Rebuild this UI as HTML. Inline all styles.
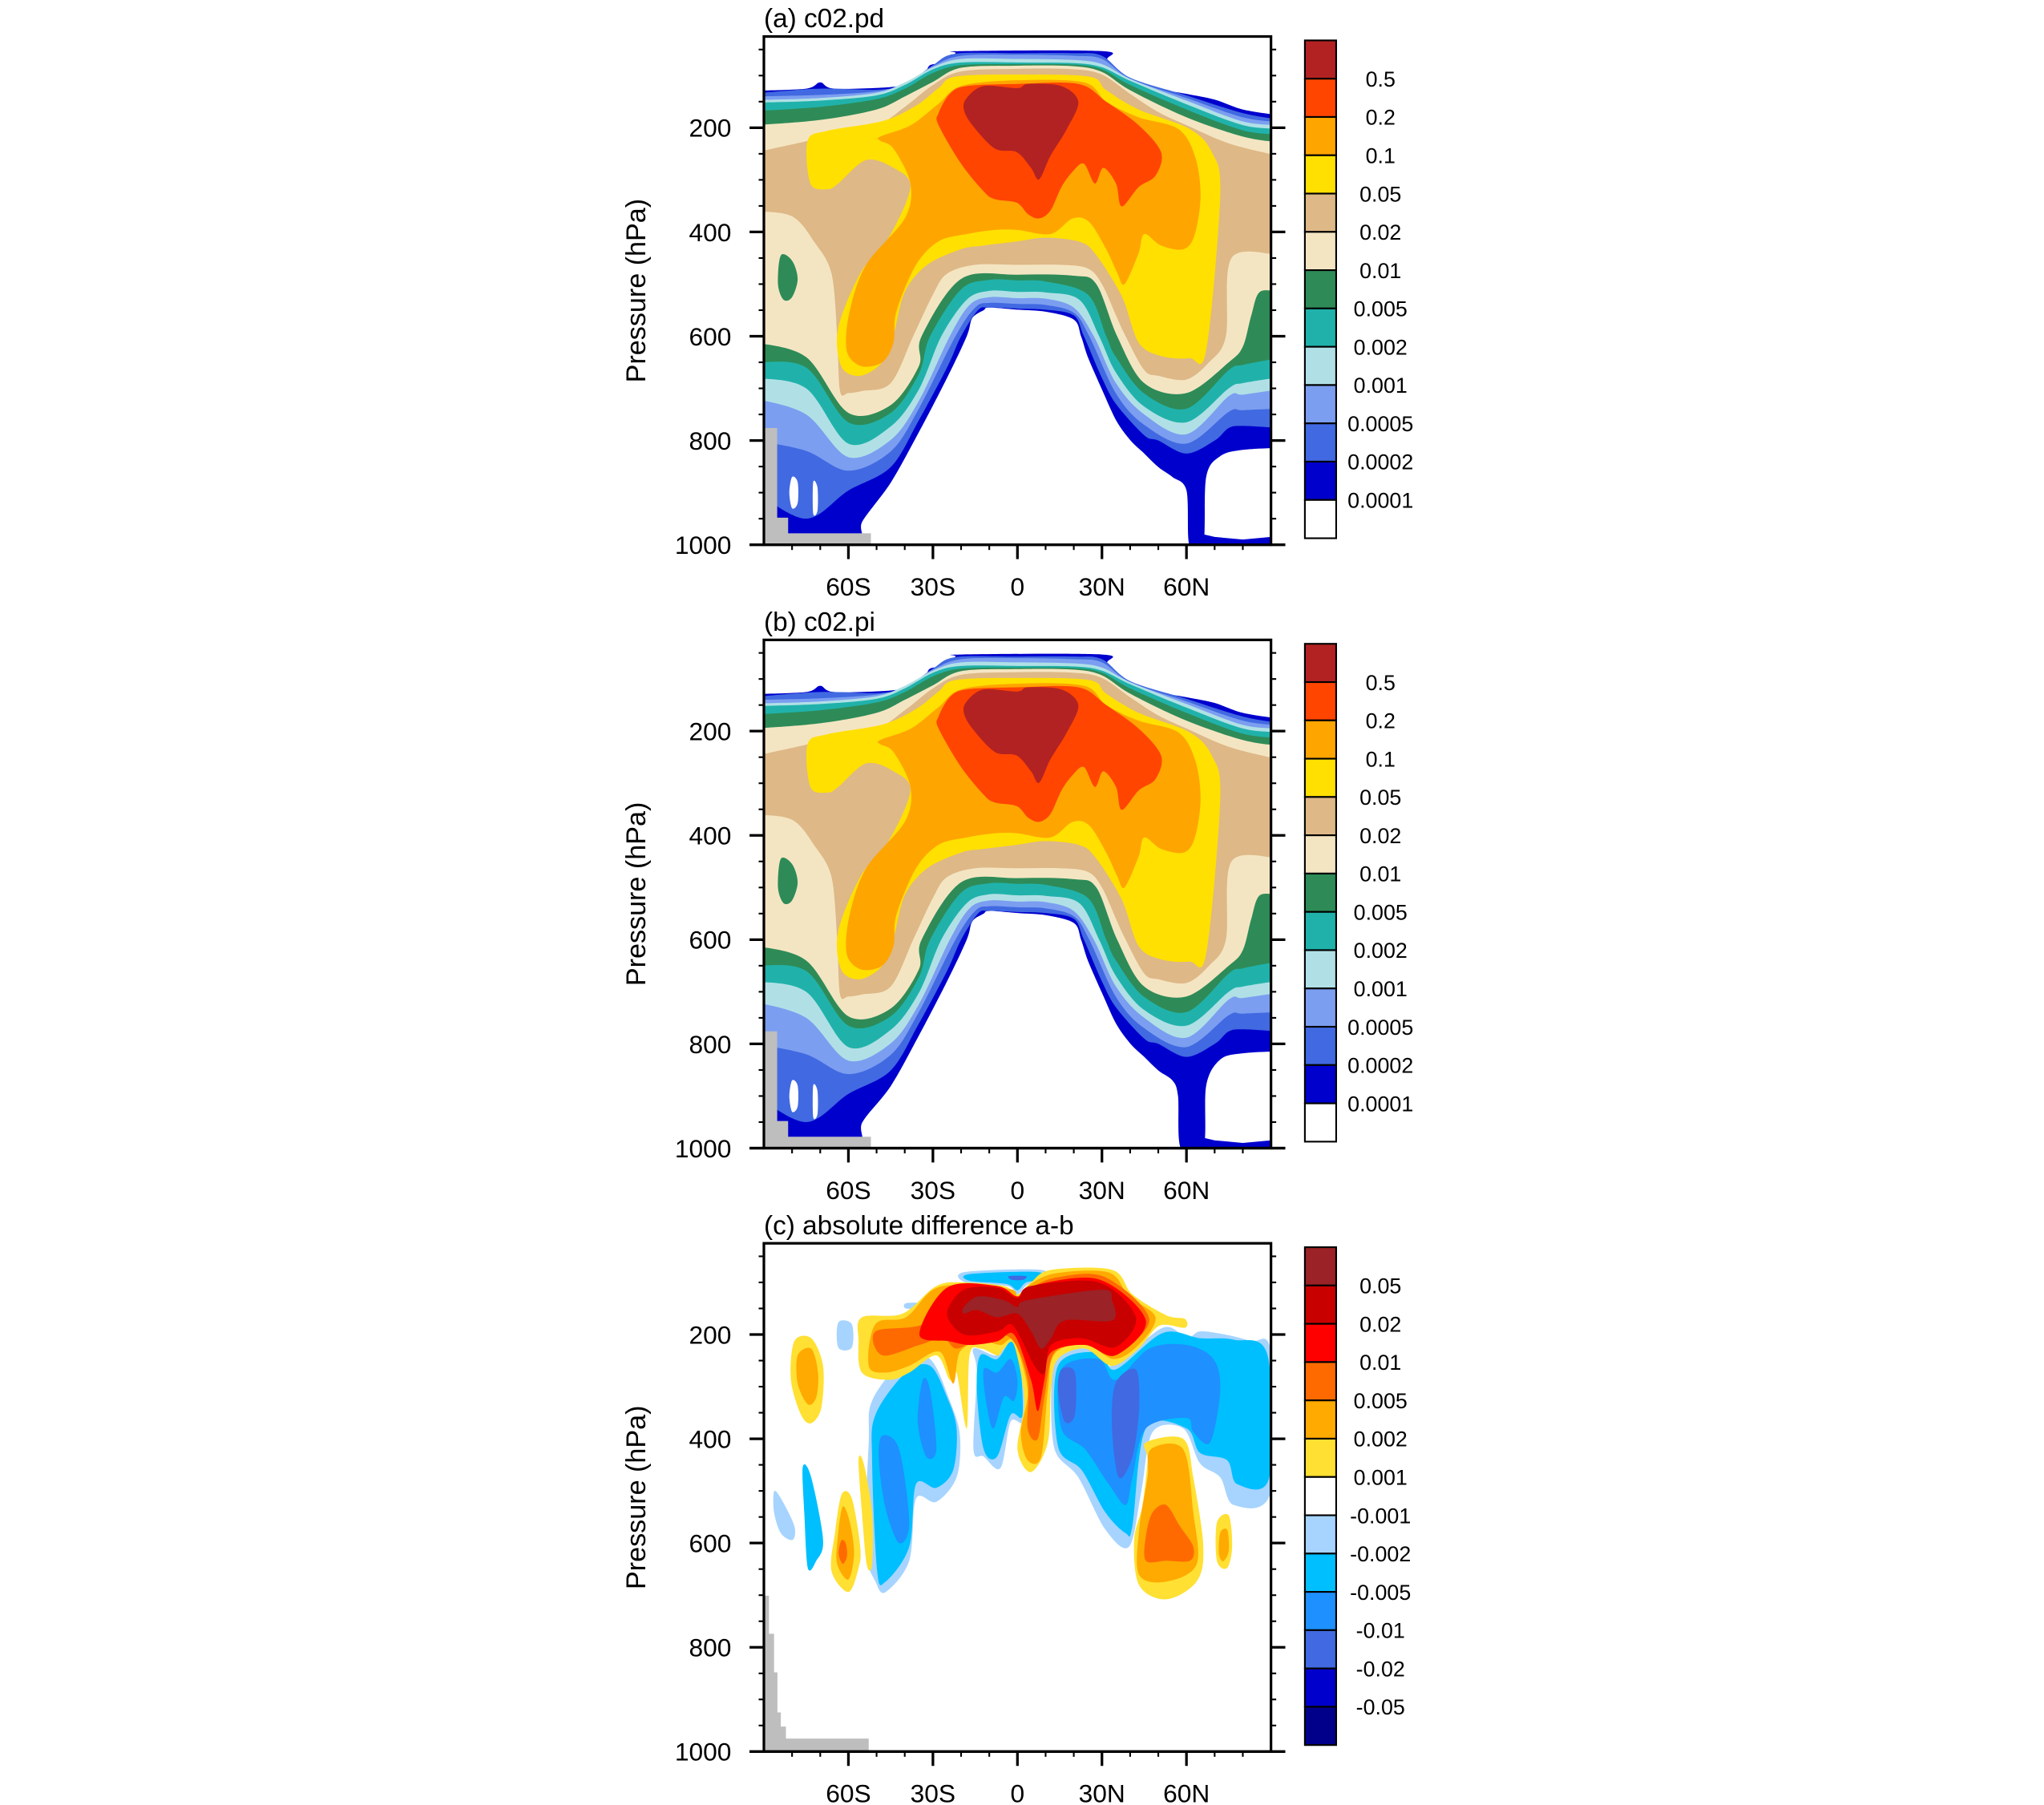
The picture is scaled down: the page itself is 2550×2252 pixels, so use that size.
<!DOCTYPE html>
<html><head><meta charset="utf-8">
<style>
html,body{margin:0;padding:0;background:#fff;}
svg{display:block;font-family:"Liberation Sans",Arial,sans-serif;}
</style></head>
<body>
<svg id="fig" xmlns="http://www.w3.org/2000/svg" width="2550" height="2252" viewBox="0 0 1568 1385" preserveAspectRatio="none">
<rect x="0" y="0" width="1568" height="1385" fill="#fff"/>
</svg>
<script>
// ---------- data (lat, pressure hPa) ----------
const colorsAB = ["#B22222","#FF4500","#FFA500","#FFE000","#DEB887","#F4E5C2","#2E8B57","#20B2AA","#B0E0E6","#7B9EF0","#4169E1","#0000CD","#FFFFFF"];
const labelsAB = ["0.5","0.2","0.1","0.05","0.02","0.01","0.005","0.002","0.001","0.0005","0.0002","0.0001"];
const colorsC = ["#9B2226","#C80000","#FF0000","#FF6A00","#FFAA00","#FFE033","#FFFFFF","#A6D4FF","#00BFFF","#1E90FF","#4169E1","#0000CD","#00008B"];
const labelsC = ["0.05","0.02","0.01","0.005","0.002","0.001","-0.001","-0.002","-0.005","-0.01","-0.02","-0.05"];
const latTicks = [-60,-30,0,30,60];
const latTickLabels = ["60S","30S","0","30N","60N"];
const presTicks = [200,400,600,800,1000];
const titles = ["(a) c02.pd","(b) c02.pi","(c) absolute difference a-b"];

// annulus tops (left to right)
const top1 = [[-90,129],[-75,125],[-70,113],[-65,125],[-45,122],[-38,113],[-33,100],[-31,80],[-25,75],[-22,57],[-20,53],[30,53],[32,70],[38,100],[45,120],[60,135],[70,146],[80,165],[90,176]];
const top2 = [[-90,134],[-70,125],[-50,127],[-40,117],[-30,80],[-22,58],[0,57],[20,57],[30,62],[40,104],[60,138],[80,172],[90,184]];
const top3 = [[-90,140],[-70,137],[-50,130],[-40,115],[-30,82],[-20,62],[0,60],[20,62],[30,68],[40,106],[60,143],[80,180],[90,189]];
const top4 = [[-90,147],[-70,143],[-50,133],[-40,113],[-30,84],[-20,68],[0,68],[20,70],[30,78],[40,106],[60,148],[80,188],[90,195]];
const top5 = [[-90,152],[-70,148],[-50,138],[-40,118],[-30,88],[-20,75],[0,75],[20,76],[30,84],[40,110],[60,155],[80,195],[90,202]];
const top6 = [[-90,168],[-70,160],[-50,145],[-40,125],[-30,95],[-20,80],[0,78],[20,79],[30,88],[40,118],[60,165],[80,205],[90,213]];
const top7 = [[-90,195],[-70,185],[-50,165],[-40,140],[-30,112],[-20,85],[0,81],[20,82],[30,93],[40,128],[60,180],[80,217],[90,228]];
const top8 = [[-90,247],[-70,220],[-50,195],[-40,160],[-30,118],[-20,92],[0,87],[20,88],[30,98],[40,135],[50,170],[60,195],[75,230],[90,254]];
// annulus bottoms (right to left)
const bot1 = [[90,814],[80,818],[72,830],[67,870],[66,1000],[61,1000],[60,896],[55,870],[50,851],[45,825],[40,799],[35,761],[30,702],[25,640],[22.6,600],[20,568],[10,553],[0,549],[-10,545],[-12,550],[-16,565],[-18,600],[-25,680],[-35,784],[-45,881],[-55,955],[-58,1000],[-90,1000]];
const bot1b = [[90,814],[80,818],[72,830],[67,880],[66,1000],[58,1000],[57,900],[55,870],[50,851],[45,825],[40,799],[35,761],[30,702],[25,640],[22.6,600],[20,568],[10,553],[0,549],[-10,545],[-12,550],[-16,565],[-18,600],[-25,680],[-35,784],[-45,881],[-55,950],[-58,1000],[-90,1000]];
const bot2 = [[90,776],[80,772],[75,776],[70,800],[60,825],[50,800],[45,790],[35,730],[30,680],[23.6,600],[20,560],[10,549],[0,547],[-10,545],[-14,550],[-20,600],[-25,660],[-35,761],[-45,851],[-60,896],[-75,950],[-90,900]];
const bot3 = [[90,739],[80,742],[75,745],[60,806],[45,770],[35,710],[25.5,600],[20,555],[10,540],[0,538],[-10,536],[-15,545],[-22,600],[-35,739],[-45,821],[-60,858],[-75,820],[-90,800]];
const bot4 = [[90,702],[80,712],[75,715],[60,788],[45,750],[35,690],[27.1,600],[20,545],[10,528],[0,527],[-10,525],[-17,540],[-24,600],[-35,724],[-45,799],[-60,832],[-75,750],[-90,720]];
const bot5 = [[90,679],[80,690],[75,700],[60,765],[45,735],[35,670],[29,600],[22,530],[10,516],[0,515],[-10,513],[-18,530],[-27,600],[-35,702],[-45,773],[-60,806],[-75,700],[-90,680]];
const bot6 = [[90,642],[80,655],[75,665],[60,739],[45,710],[35,640],[31.5,600],[25,520],[10,495],[0,493],[-10,492],[-20,510],[-31,600],[-35,672],[-45,747],[-60,765],[-75,660],[-90,650]];
const bot7 = [[90,515],[86,515],[83,560],[80,620],[75,650],[60,709],[45,690],[35.4,600],[28,500],[20,484],[0,482],[-20,490],[-34,600],[-35,657],[-45,732],[-60,747],[-75,640],[-90,612]];
const bot8 = [[90,444],[76,450],[74,600],[68,650],[60,683],[50,676],[45,665],[38.4,600],[35,560],[30,500],[25,470],[15,463],[0,463],[-15,463],[-25,480],[-30,520],[-37,600],[-45,690],[-55,705],[-60,709],[-63,705],[-64,600],[-66,480],[-72,420],[-80,370],[-90,360]];
// closed blobs
const blobGold = [[-74.5,225],[-67.5,206],[-47.7,187],[-35.8,157],[-28,124],[-22,102],[0,98],[25.5,102],[31.5,128],[43,165],[61,202],[69,247],[72,329],[67,627],[61,642],[51,638],[43,612],[37,523],[27.5,441],[21.6,418],[9.7,411],[0,418],[-12,426],[-20,433],[-32,463],[-40,515],[-44,597],[-48,650],[-56,676],[-62.6,657],[-63.6,583],[-55.6,478],[-45.7,411],[-38,314],[-44,277],[-53.7,262],[-63.6,307],[-67.5,318],[-73.5,307]];
const blobOrange = [[-48.7,217],[-37.8,195],[-28,154],[-20,120],[0,109],[23.6,113],[31.5,150],[43,180],[57,202],[63,254],[65,329],[63,404],[59,433],[51,426],[45,404],[43,441],[38,500],[35.4,478],[31.5,433],[25.5,381],[19.6,374],[11.7,404],[0,396],[-8,396],[-18,404],[-28,418],[-36,463],[-43,553],[-44,612],[-48,650],[-55.6,657],[-60.6,627],[-59.6,553],[-53.7,463],[-40,374],[-38,307],[-44,240],[-48.7,225]];
const blobRed = [[-28,172],[-24,135],[-18,120],[0,116],[21.6,116],[31.5,150],[43,195],[51,247],[49,292],[43,314],[37,351],[35,307],[30.5,277],[27.5,307],[23.6,269],[19.6,284],[15.6,314],[11.7,359],[7.7,374],[3.8,366],[-0.2,344],[-8,337],[-12,322],[-20,269],[-28,195]];
const blobDark = [[-18,143],[-12,120],[0,124],[3.8,116],[15.6,120],[21.6,150],[17.6,202],[11.7,254],[7.7,299],[4.8,277],[-0.2,247],[-8,240],[-16,195],[-19,165]];
const blobGreen = [[-84,445],[-80,455],[-78,490],[-80,525],[-83,530],[-85,500]];
const holeW1 = [[-80,870],[-78,880],[-78,920],[-80,930],[-81,900]];
const holeW2 = [[-72.5,880],[-71,890],[-71,935],[-72.5,940]];
const stripNE = [[62,1000],[62,975],[70,985],[80,990],[90,985],[90,1000]];
const terrainAB = [[-90,776],[-85.3,776],[-85.3,948],[-81.4,948],[-81.4,978],[-52,978],[-52,1000],[-90,1000]];
const terrainC = [[-90,701],[-88.2,701],[-88.2,774],[-86.4,774],[-86.4,848],[-85.2,848],[-85.2,925],[-84,925],[-84,952],[-82.2,952],[-82.2,975],[-52.8,975],[-52.8,1000],[-90,1000]];

// panel c: negatives
const negLightL = [[-51.6,327],[-40.8,253],[-31,247],[-24,327],[-20.4,394],[-21.6,474],[-28.8,521],[-36,515],[-38.4,634],[-46.8,694],[-50.4,674],[-54,607],[-52.8,407]];
const negLightM = [[-15.6,227],[-7.2,240],[-2.4,207],[1.2,227],[2.4,362],[-2.4,367],[-6,456],[-12,434],[-15.6,420],[-14.4,273]];
const negLightR = [[13.2,247],[28.8,220],[33.6,260],[51.6,187],[60,207],[64.8,194],[73.6,200],[82.8,213],[90,234],[90,501],[76.8,527],[72,474],[64.8,447],[58.8,380],[48,387],[44,500],[39.6,607],[31.2,574],[21.6,474],[13.2,420],[12,300]];
const negLightTop = [[-18.6,80],[8.4,76],[9.6,97],[3.6,104],[0,123],[-3.6,107],[-18.4,100]];
const negLightS1 = [[-86.4,501],[-84,514],[-79.2,567],[-79.8,594],[-84,581],[-86.4,541]];
const negLightS2 = [[-63.6,177],[-58.8,180],[-58.8,225],[-63.6,225]];
const negLightS3 = [[-39.6,140],[-33.6,140],[-33.6,150],[-39.6,150]];
const negCyanL = [[-50.4,354],[-39.6,273],[-31,260],[-25,320],[-21.6,380],[-22.8,460],[-28.8,494],[-36,487],[-38.4,607],[-46.8,674],[-49.8,654],[-51.6,441]];
const negCyanM = [[-13.2,240],[-7.2,247],[-2.4,213],[0.6,234],[1.8,354],[-2.4,354],[-7.2,434],[-12,420],[-14.4,307]];
const negCyanR = [[14.4,260],[28.8,234],[34.8,267],[51.6,197],[64.8,207],[76.8,210],[88.8,240],[89.4,474],[78,487],[74.4,441],[64.8,427],[60,380],[45.6,380],[40.8,567],[38.4,581],[31.2,541],[22.8,460],[14.4,414]];
const negCyanTop = [[-17,84],[7,80],[8,95],[3,100],[0,115],[-4,103],[-17,97]];
const negCyanS = [[-76.2,454],[-73.2,474],[-69,594],[-71.4,634],[-74.4,648],[-75.6,547]];
const negDodgerL1 = [[-48,394],[-42,420],[-38.4,561],[-42,600],[-46.8,534],[-49.2,441]];
const negDodgerL2 = [[-33.6,287],[-31,307],[-28.8,420],[-32.4,434],[-35.4,367]];
const negDodgerM = [[-12,267],[-7.2,273],[-2.4,247],[0,287],[-1.2,327],[-4.8,320],[-8.4,380],[-10.8,340]];
const negDodgerR = [[15.6,267],[28.8,247],[34.8,287],[46.8,227],[60,220],[69.6,247],[72,307],[68.4,407],[62.4,387],[60,360],[45.6,380],[40.8,474],[38.4,527],[32.4,487],[24,420],[15.6,380]];
const negRoyal1 = [[34.8,294],[42,267],[43.2,340],[40.8,434],[36,474],[33.6,380]];
const negRoyal2 = [[15.6,267],[20.4,273],[20.4,354],[16.8,367],[14.4,307]];
const negRoyalTop = [[-3,88],[3,88],[2,95],[-2,95]];
// panel c: positives
const posYellowTop = [[-55.2,167],[-40.8,160],[-28.8,107],[-19,100],[-4.8,107],[0,123],[4.8,100],[12,76],[33.6,76],[40.8,123],[52.8,163],[59.4,170],[59.4,187],[50.4,183],[43,227],[33.6,260],[24,227],[14.4,247],[12,300],[10.8,407],[4.8,464],[0,420],[2.4,327],[-1.2,220],[-4.8,227],[-7,240],[-13,227],[-17,240],[-18,380],[-21.6,273],[-24,287],[-28.8,240],[-38.4,273],[-45.6,287],[-55.2,273],[-56.4,212]];
const posOrangeTop = [[-50.4,180],[-39.6,167],[-30,114],[-19,105],[-2.4,113],[0,127],[3.6,107],[13.2,83],[32.4,81],[39.6,127],[49,167],[43,220],[34.2,247],[24,217],[13.2,237],[10.8,307],[8.4,434],[3.6,441],[1.2,387],[3.6,307],[-1.2,213],[-6,220],[-13,213],[-20.4,233],[-22.8,294],[-27.6,233],[-38.4,260],[-46.8,273],[-52.8,260]];
const posDOrangeTop = [[-50.4,194],[-33.6,180],[-26.4,120],[-7.2,110],[0,130],[4.8,110],[14.4,90],[31.2,90],[46.8,170],[34.8,237],[24,220],[13.2,234],[9.6,320],[7.2,400],[3.6,380],[3.6,287],[-2.4,207],[-13,207],[-21.6,227],[-26.4,207],[-34.8,220],[-48,240]];
const posRedTop = [[-34.8,200],[-25,110],[-7.2,107],[0,127],[4.8,107],[28.8,94],[45.6,173],[34.8,240],[24,220],[12,234],[9.6,287],[7.2,347],[4.8,287],[-1.2,200],[-7.2,213],[-16.8,220],[-24,213]];
const posCrimsonTop = [[-25,160],[-19,114],[-7.2,110],[0,130],[4.8,107],[28.8,100],[42,167],[34.8,224],[22.8,207],[12,220],[9.6,274],[6,260],[1.2,207],[-2.4,180],[-7.2,194],[-19,200]];
const posDarkTop = [[-19,147],[-14,127],[-4.8,134],[0,147],[3.6,134],[30,114],[33.6,134],[33.6,173],[16.8,173],[12,207],[8.4,227],[4.8,194],[0,160],[-7.2,167],[-14.4,153],[-19,160]];
const posYellowNE = [[45.6,407],[58.8,400],[62.4,474],[66,607],[63.6,674],[52.8,708],[43.2,681],[41.4,594],[44.4,527],[46.2,441]];
const posOrangeNE = [[47.4,420],[58.8,420],[62.4,541],[63.6,641],[52.8,674],[43.2,661],[43.2,574],[46.2,474]];
const posDOrangeNE = [[48,541],[52.8,527],[57.6,567],[62.4,607],[61.2,634],[52.8,634],[45.6,634],[45.6,587]];
const posYellowSW = [[-79.2,213],[-73.2,207],[-69,260],[-69.6,340],[-73.2,370],[-76.8,354],[-80.4,287]];
const posOrangeSW = [[-78,240],[-73.2,227],[-70.8,273],[-71.4,320],[-74.4,334],[-78,294]];
const posYellowS = [[-62.4,507],[-58.8,514],[-55.8,607],[-56.4,648],[-60,694],[-66,654],[-64.8,581]];
const posOrangeS = [[-62,530],[-59.5,560],[-58,620],[-60,670],[-64,640],[-63.8,590]];
const posDOrangeS = [[-62.5,595],[-61,600],[-60.5,625],[-62,640],[-63.5,620]];
const posYellowS2 = [[-56.4,441],[-54.6,447],[-51.6,541],[-51.6,641],[-53.5,641],[-55.2,541]];
const posYellowE = [[70.8,561],[75,547],[76.2,607],[74.4,648],[70.8,634]];
const posOrangeE = [[72,580],[74.5,575],[75,615],[73,635],[71.5,620]];

// ---------- drawing ----------
const svg = document.getElementById('fig');
const NS = 'http://www.w3.org/2000/svg';
const PX0 = 586, PX1 = 975, PY0 = 28, PY1 = 418;
function xS(lat){ return PX0 + (lat + 90) / 180 * (PX1 - PX0); }
function yS(p, off){ return off + PY0 + (p - 25) / 975 * (PY1 - PY0); }
function mk(tag, attrs, parent){
  const e = document.createElementNS(NS, tag);
  for (const k in attrs) e.setAttribute(k, attrs[k]);
  (parent || svg).appendChild(e);
  return e;
}
function smoothPath(P){
  const n = P.length;
  let d = 'M' + P[0][0].toFixed(1) + ',' + P[0][1].toFixed(1);
  for (let i = 0; i < n; i++){
    const p0 = P[(i - 1 + n) % n], p1 = P[i], p2 = P[(i + 1) % n], p3 = P[(i + 2) % n];
    const t = 0.16;
    const c1x = p1[0] + (p2[0] - p0[0]) * t, c1y = p1[1] + (p2[1] - p0[1]) * t;
    const c2x = p2[0] - (p3[0] - p1[0]) * t, c2y = p2[1] - (p3[1] - p1[1]) * t;
    d += 'C' + c1x.toFixed(1) + ',' + c1y.toFixed(1) + ' ' + c2x.toFixed(1) + ',' + c2y.toFixed(1) + ' ' + p2[0].toFixed(1) + ',' + p2[1].toFixed(1);
  }
  return d + 'Z';
}
function poly(g, pts, off, color, name, sharp){
  const P = pts.map(d => [xS(d[0]), yS(d[1], off)]);
  let e;
  if (sharp) e = mk('polygon', {points: P.map(q => q[0].toFixed(1) + ',' + q[1].toFixed(1)).join(' '), fill: color}, g);
  else e = mk('path', {d: smoothPath(P), fill: color}, g);
  
  
  return e;
}
// pad edge points outside the frame so smoothing does not overshoot at the edges
function padEdges(arr){
  const out = [];
  arr.forEach(d => {
    if (Math.abs(d[0]) >= 90){
      const s = d[0] > 0 ? 1 : -1;
      out.push([s * 93, d[1]], [s * 96, d[1]], [s * 93, d[1]]);
    } else out.push(d);
  });
  return out;
}
function band(g, top, bot, off, color, name){
  const pts = padEdges(top).concat(padEdges(bot));
  return poly(g, pts, off, color, name);
}

function panelAB(off, idx, b1){
  const clipId = 'clip' + idx;
  const cp = mk('clipPath', {id: clipId});
  mk('rect', {x: PX0, y: off + PY0, width: PX1 - PX0, height: PY1 - PY0}, cp);
  const g = mk('g', {'clip-path': 'url(#' + clipId + ')'});
  
  
  band(g, top1, b1, off, colorsAB[11], 'level-0.0001');
  band(g, top2, bot2, off, colorsAB[10], 'level-0.0002');
  band(g, top3, bot3, off, colorsAB[9], 'level-0.0005');
  band(g, top4, bot4, off, colorsAB[8], 'level-0.001');
  band(g, top5, bot5, off, colorsAB[7], 'level-0.002');
  band(g, top6, bot6, off, colorsAB[6], 'level-0.005');
  band(g, top7, bot7, off, colorsAB[5], 'level-0.01');
  band(g, top8, bot8, off, colorsAB[4], 'level-0.02');
  poly(g, blobGreen, off, colorsAB[6], 'level-0.005-blob');
  poly(g, blobGold, off, colorsAB[3], 'level-0.05');
  poly(g, blobOrange, off, colorsAB[2], 'level-0.1');
  poly(g, blobRed, off, colorsAB[1], 'level-0.2');
  poly(g, blobDark, off, colorsAB[0], 'level-0.5');
  poly(g, holeW1, off, '#FFFFFF', 'below-0.0001-patch');
  poly(g, holeW2, off, '#FFFFFF', 'below-0.0001-patch');
  poly(g, stripNE, off, colorsAB[11], 'level-0.0001-surface', true);
  poly(g, terrainAB, off, '#BEBEBE', 'terrain-mask', true);
}

function panelC(off){
  const cp = mk('clipPath', {id: 'clipc'});
  mk('rect', {x: PX0, y: off + PY0, width: PX1 - PX0, height: PY1 - PY0}, cp);
  const g = mk('g', {'clip-path': 'url(#clipc)'});
  
  
  [negLightL, negLightM, negLightR, negLightTop, negLightS1, negLightS2, negLightS3].forEach(a => poly(g, a, off, colorsC[7], 'neg-0.001'));
  [negCyanL, negCyanM, negCyanR, negCyanTop, negCyanS].forEach(a => poly(g, a, off, colorsC[8], 'neg-0.002'));
  [negDodgerL1, negDodgerL2, negDodgerM, negDodgerR].forEach(a => poly(g, a, off, colorsC[9], 'neg-0.005'));
  [negRoyal1, negRoyal2, negRoyalTop].forEach(a => poly(g, a, off, colorsC[10], 'neg-0.01'));
  [posYellowTop, posYellowNE, posYellowSW, posYellowS, posYellowS2, posYellowE].forEach(a => poly(g, a, off, colorsC[5], 'pos-0.001'));
  [posOrangeTop, posOrangeNE, posOrangeSW, posOrangeS, posOrangeE].forEach(a => poly(g, a, off, colorsC[4], 'pos-0.002'));
  [posDOrangeTop, posDOrangeNE, posDOrangeS].forEach(a => poly(g, a, off, colorsC[3], 'pos-0.005'));
  poly(g, posRedTop, off, colorsC[2], 'pos-0.01');
  poly(g, posCrimsonTop, off, colorsC[1], 'pos-0.02');
  poly(g, posDarkTop, off, colorsC[0], 'pos-0.05');
  poly(g, terrainC, off, '#BEBEBE', 'terrain-mask', true);
}

function axes(off, idx){
  const g = mk('g', {});
  
  
  for (let p = 50; p <= 1000; p += 50){
    const y = yS(p, off);
    const major = presTicks.indexOf(p) >= 0;
    const L = major ? 11 : 4;
    mk('line', {x1: PX0 - L, x2: PX0, y1: y, y2: y, stroke: '#000', 'stroke-width': major ? 2 : 1.3}, g);
    mk('line', {x1: PX1, x2: PX1 + L, y1: y, y2: y, stroke: '#000', 'stroke-width': major ? 2 : 1.3}, g);
  }
  for (let lat = -80; lat <= 80; lat += 10){
    const x = xS(lat);
    const major = latTicks.indexOf(lat) >= 0;
    mk('line', {x1: x, x2: x, y1: off + PY1, y2: off + PY1 + (major ? 11 : 4), stroke: '#000', 'stroke-width': major ? 2 : 1.3}, g);
  }
  mk('line', {x1: PX0 - 11, x2: PX1 + 11, y1: off + PY1, y2: off + PY1, stroke: '#000', 'stroke-width': 2}, g);
  const fr = mk('rect', {x: PX0, y: off + PY0, width: PX1 - PX0, height: PY1 - PY0, fill: 'none', stroke: '#000', 'stroke-width': 2}, g);
  
  
  presTicks.forEach(p => {
    const t = mk('text', {x: 561, y: yS(p, off) + 7, 'font-size': 19.5, 'text-anchor': 'end'}, g);
    t.textContent = String(p);
    
    
  });
  latTicks.forEach((lat, i) => {
    const t = mk('text', {x: xS(lat), y: off + PY1 + 39, 'font-size': 19.5, 'text-anchor': 'middle'}, g);
    t.textContent = latTickLabels[i];
    
    
  });
  const yt = mk('text', {x: 0, y: 0, 'font-size': 21, 'text-anchor': 'middle', transform: 'translate(495,' + (off + 223) + ') rotate(-90)'}, g);
  yt.textContent = 'Pressure (hPa)';
  
  
  const tt = mk('text', {x: 586, y: off + 21, 'font-size': 20.5}, g);
  tt.textContent = titles[idx];
  
  
}

function colorbar(off, colors, labels, idx){
  const g = mk('g', {});
  
  
  const x = 1001, w = 24, top = off + 31, bot = off + 413;
  const h = (bot - top) / colors.length;
  colors.forEach((c, i) => {
    const r = mk('rect', {x: x, y: top + i * h, width: w, height: h, fill: c, stroke: '#000', 'stroke-width': 1.3}, g);
    
    
  });
  labels.forEach((l, i) => {
    const t = mk('text', {x: 1059, y: top + (i + 1) * h + 6, 'font-size': 16.5, 'text-anchor': 'middle'}, g);
    t.textContent = l;
    
    
  });
}

panelAB(0, 0, bot1);
axes(0, 0);
colorbar(0, colorsAB, labelsAB, 0);
panelAB(463, 1, bot1b);
axes(463, 1);
colorbar(463, colorsAB, labelsAB, 1);
panelC(926);
axes(926, 2);
colorbar(926, colorsC, labelsC, 2);
</script>
</body></html>
